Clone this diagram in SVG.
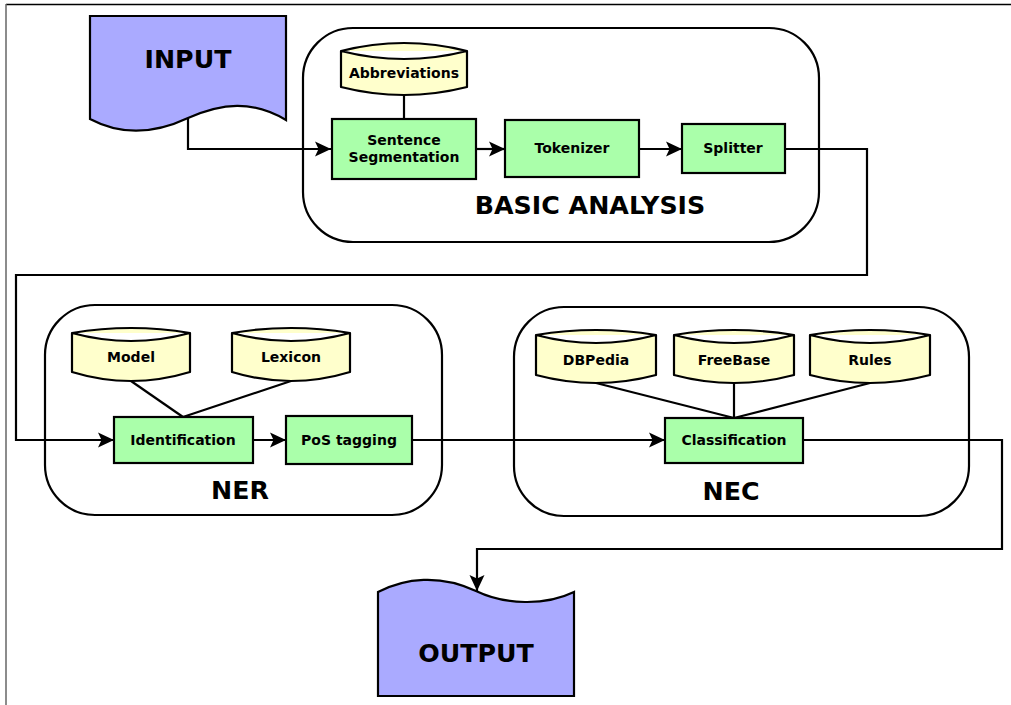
<svg xmlns="http://www.w3.org/2000/svg" width="1011" height="705" viewBox="0 0 1011 705">
<style>
text{font-family:"DejaVu Sans","Liberation Sans",sans-serif;font-weight:bold;fill:#000;text-anchor:middle}
.big{font-size:25.3px}
.sm{font-size:14px}
.grp{fill:none;stroke:#000;stroke-width:2.2}
.proc{fill:#aaffaa;stroke:#000;stroke-width:2.2}
.db{fill:#ffffcc;stroke:#000;stroke-width:2.2;stroke-linejoin:round}
.doc{fill:#aaaaff;stroke:#000;stroke-width:2.2}
.c{fill:none;stroke:#000;stroke-width:2.2}
.ca{fill:none;stroke:#000;stroke-width:2.2;marker-end:url(#ah)}
</style>
<defs>
<marker id="ah" markerUnits="userSpaceOnUse" viewBox="-17 -9 18 18" refX="0" refY="0" markerWidth="18" markerHeight="18" orient="auto">
<path d="M-16,-7.5 L0,0 L-16,7.5 L-12.5,0 Z" fill="#000"/>
</marker>
</defs>
<rect width="1011" height="705" fill="#fff"/>
<line x1="6" y1="4.5" x2="1011" y2="4.5" stroke="#000" stroke-width="1.5"/>
<line x1="6" y1="4" x2="6" y2="705" stroke="#666" stroke-width="1.5"/>

<g id="basic-analysis">
<rect class="grp" x="303" y="28" width="516" height="214" rx="50" ry="50"/>
<text class="big" x="590" y="214">BASIC ANALYSIS</text>
</g>
<g id="ner">
<rect class="grp" x="45" y="305" width="397" height="210" rx="50" ry="50"/>
<text class="big" x="240" y="499">NER</text>
</g>
<g id="nec">
<rect class="grp" x="514" y="307" width="455" height="209" rx="50" ry="50"/>
<text class="big" x="731" y="500">NEC</text>
</g>

<g id="connectors">
<path class="ca" d="M188,118 V149 H331"/>
<line class="c" x1="404" y1="95" x2="404" y2="119"/>
<path class="ca" d="M476,149 H505"/>
<path class="ca" d="M639,149 H682"/>
<path class="ca" d="M785,149 H867 V275 H16 V440 H114"/>
<line class="c" x1="131" y1="381" x2="183" y2="417"/>
<line class="c" x1="291" y1="381" x2="183" y2="417"/>
<path class="ca" d="M253,440 H286"/>
<path class="ca" d="M412,440 H665"/>
<line class="c" x1="596" y1="383" x2="734" y2="418"/>
<line class="c" x1="734" y1="383" x2="734" y2="418"/>
<line class="c" x1="870" y1="383" x2="734" y2="418"/>
<path class="ca" d="M803,440 H1002 V549 H477 V591"/>
</g>

<g id="input">
<path class="doc" d="M90,16 H286 V120 C252,100 222,103 188,118 C154,134 122,136 90,119 Z"/>
<text class="big" x="188" y="68">INPUT</text>
</g>
<g id="abbreviations">
<path class="db" d="M341,51 Q404,35 467,51 V87 Q404,103 341,87 Z M341,51 Q404,67 467,51"/>
<text class="sm" x="404" y="78">Abbreviations</text>
</g>
<g id="sentence-segmentation">
<rect class="proc" x="332" y="119" width="144" height="60"/>
<text class="sm" x="404" y="145">Sentence</text>
<text class="sm" x="404" y="162">Segmentation</text>
</g>
<g id="tokenizer">
<rect class="proc" x="505" y="120" width="134" height="57"/>
<text class="sm" x="572" y="153">Tokenizer</text>
</g>
<g id="splitter">
<rect class="proc" x="682" y="124" width="103" height="49"/>
<text class="sm" x="733" y="153">Splitter</text>
</g>
<g id="model">
<path class="db" d="M72,333 Q131,323 190,333 V372 Q131,390 72,372 Z M72,333 Q131,349 190,333"/>
<text class="sm" x="131" y="362">Model</text>
</g>
<g id="lexicon">
<path class="db" d="M232,333 Q291,323 350,333 V372 Q291,390 232,372 Z M232,333 Q291,349 350,333"/>
<text class="sm" x="291" y="362">Lexicon</text>
</g>
<g id="identification">
<rect class="proc" x="114" y="417" width="139" height="46"/>
<text class="sm" x="183" y="445">Identification</text>
</g>
<g id="pos-tagging">
<rect class="proc" x="286" y="416" width="126" height="48"/>
<text class="sm" x="349" y="445">PoS tagging</text>
</g>
<g id="dbpedia">
<path class="db" d="M536,335 Q596,325 656,335 V375 Q596,391 536,375 Z M536,335 Q596,351 656,335"/>
<text class="sm" x="596" y="365">DBPedia</text>
</g>
<g id="freebase">
<path class="db" d="M674,335 Q734,325 794,335 V375 Q734,391 674,375 Z M674,335 Q734,351 794,335"/>
<text class="sm" x="734" y="365">FreeBase</text>
</g>
<g id="rules">
<path class="db" d="M810,335 Q870,325 930,335 V375 Q870,391 810,375 Z M810,335 Q870,351 930,335"/>
<text class="sm" x="870" y="365">Rules</text>
</g>
<g id="classification">
<rect class="proc" x="665" y="418" width="138" height="45"/>
<text class="sm" x="734" y="445">Classification</text>
</g>
<g id="output">
<path class="doc" d="M378,592 C405,578 440,574 476,591 C505,605 545,606 574,592 V696 H378 Z"/>
<text class="big" x="476" y="662">OUTPUT</text>
</g>
</svg>
